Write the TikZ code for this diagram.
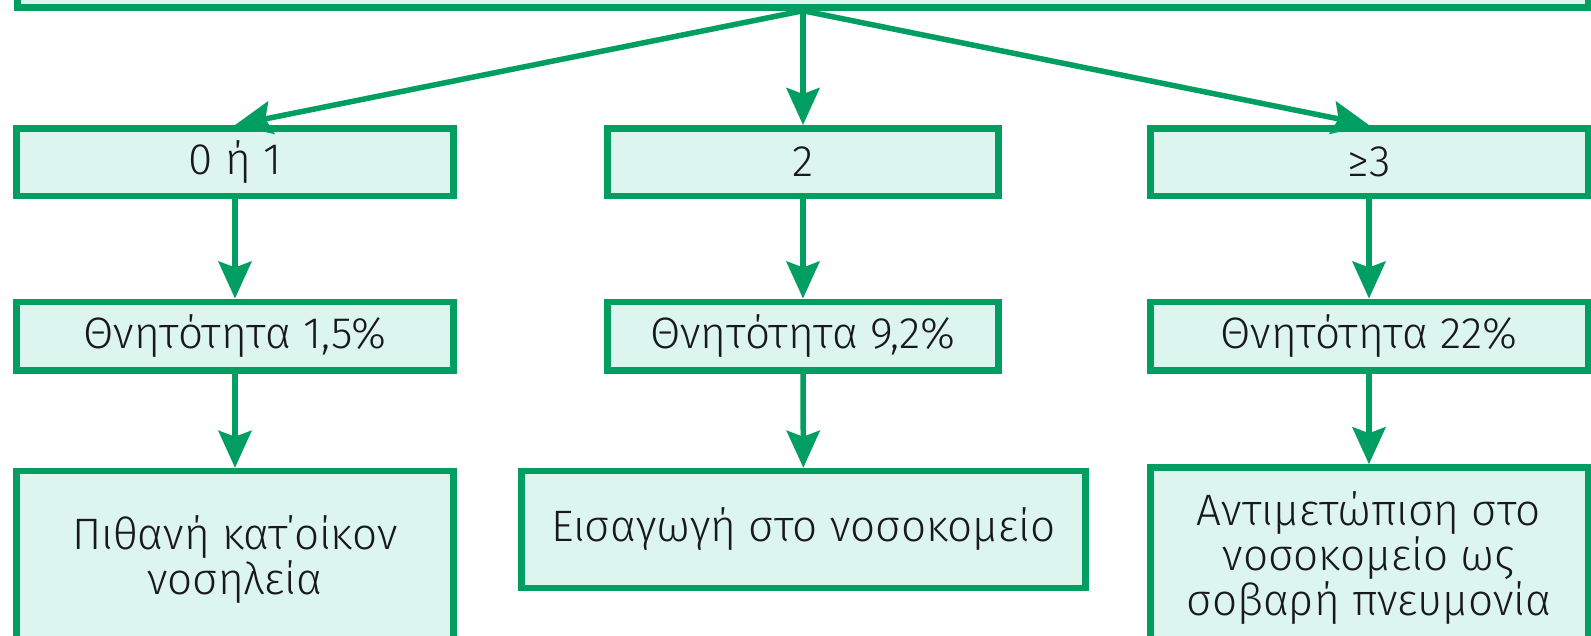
\documentclass[tikz,border=0pt]{standalone}
\usepackage{fontspec}
\setmainfont{Fira Sans}[UprightFont=* Light]
\usetikzlibrary{arrows.meta}
\definecolor{gr}{RGB}{0,158,96}
\definecolor{mint}{RGB}{220,245,238}
\definecolor{ink}{RGB}{25,25,25}
\begin{document}
\begin{tikzpicture}[x=1pt,y=-1pt,
  box/.style={draw=gr, line width=6.5pt, fill=mint, text=ink,
    font=\fontsize{44}{45}\selectfont, inner sep=0pt, align=center},
  conn/.style={draw=gr, line width=5.5pt,
    -{Stealth[length=37pt,width=33pt,inset=6pt]}}]
\useasboundingbox (0,0) rectangle (1591,635);
\clip (0,0) rectangle (1591,635);
\fill[white] (0,0) rectangle (1591,635);

\node[box, minimum width=1571pt, minimum height=100pt] (top) at (803,-42.5) {};

\node[box, minimum width=437pt, minimum height=67.5pt] (a1) at (235,162) {0 ή 1};
\node[box, minimum width=391pt, minimum height=67.5pt] (b1) at (803,162) {2};
\node[box, minimum width=437.5pt, minimum height=67.5pt] (c1) at (1369,162) {≥3};

\node[box, minimum width=437pt, minimum height=68.5pt] (a2) at (235,336) {Θνητότητα 1,5\%};
\node[box, minimum width=391pt, minimum height=68.5pt] (b2) at (803,336) {Θνητότητα 9,2\%};
\node[box, minimum width=437.5pt, minimum height=68.5pt] (c2) at (1369,336) {Θνητότητα 22\%};

\node[box, minimum width=437pt, minimum height=178pt] (a3) at (235,560) {Πιθανή κατ΄οίκον\\νοσηλεία};
\node[box, minimum width=564pt, minimum height=117pt] (b3) at (803.5,529.5) {Εισαγωγή στο νοσοκομείο};
\node[box, minimum width=437.5pt, minimum height=181pt] (c3) at (1369,558) {Αντιμετώπιση στο\\νοσοκομείο ως\\σοβαρή πνευμονία};

\draw[conn] (top.south) -- (a1.north);
\draw[conn] (top.south) -- (b1.north);
\draw[conn] (top.south) -- (c1.north);
\draw[conn] (a1) -- (a2);
\draw[conn] (b1) -- (b2);
\draw[conn] (c1) -- (c2);
\draw[conn] (a2) -- (a3);
\draw[conn] (b2) -- (b3);
\draw[conn] (c2) -- (c3);
\end{tikzpicture}
\end{document}
